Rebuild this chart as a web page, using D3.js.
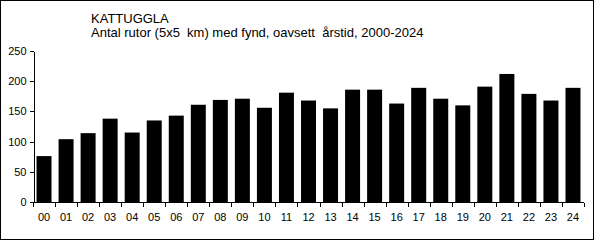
<!DOCTYPE html>
<html>
<head>
<meta charset="utf-8">
<script src="https://cdn.jsdelivr.net/npm/d3@7"></script>
<style>
  body { margin: 0; background: #fff; }
  svg { display: block; font-family: "Liberation Sans", Arial, sans-serif; }
  .axis path, .axis line { stroke: #000; shape-rendering: crispEdges; }
  .axis text { font-size: 11px; fill: #000; }
</style>
</head>
<body>
<script>
// data
var years = ['00','01','02','03','04','05','06','07','08','09','10','11','12',
             '13','14','15','16','17','18','19','20','21','22','23','24'];
var counts = [76, 104, 114, 138, 115, 135, 143, 161, 169, 171, 156, 181, 168,
              155, 186, 186, 163, 189, 171, 160, 191, 212, 179, 168, 189];
var yTicks = [0, 50, 100, 150, 200, 250];

var W = 594, H = 240;
var margin = {top: 51, right: 10, bottom: 38, left: 33};
var w = 584 - margin.left;
var h = 202 - margin.top;

var svg = d3.select('body').append('svg')
            .attr('width', W)
            .attr('height', H);

// outer frame
svg.append('rect')
   .attr('x', 0.5).attr('y', 0.5)
   .attr('width', W - 1).attr('height', H - 1)
   .attr('fill', '#fff')
   .attr('stroke', '#000');

var xScale = d3.scaleBand().domain(years).range([0, w]).paddingInner(0.32).paddingOuter(0.16);
var yScale = d3.scaleLinear().domain([0, 250]).range([h, 0]);

var g = svg.append('g')
           .attr('transform', 'translate(' + margin.left + ',' + margin.top + ')');

g.selectAll('.bar')
 .data(counts)
 .enter()
 .append('rect')
 .attr('class', 'bar')
 .attr('x', function(d, i) { return xScale(years[i]); })
 .attr('y', function(d) { return yScale(d); })
 .attr('width', xScale.bandwidth())
 .attr('height', function(d) { return h - yScale(d); })
 .attr('fill', '#000');

// y axis
var yAxis = d3.axisLeft(yScale).tickValues(yTicks).tickSize(4).tickSizeOuter(0).tickPadding(3);
g.append('g')
 .attr('class', 'axis')
 .attr('transform', 'translate(0.5,0)')
 .call(yAxis);

// x axis: ticks sit between the categories
var xAxisG = g.append('g')
              .attr('class', 'axis')
              .attr('transform', 'translate(0,' + (h + 0.5) + ')');
xAxisG.append('line')
      .attr('x1', 0).attr('x2', w)
      .attr('y1', 0).attr('y2', 0);
var step = w / years.length;
xAxisG.selectAll('.sep')
      .data(d3.range(years.length + 1))
      .enter()
      .append('line')
      .attr('x1', function(d) { return Math.round(d * step) + 0.5; })
      .attr('x2', function(d) { return Math.round(d * step) + 0.5; })
      .attr('y1', 0).attr('y2', 4);
xAxisG.selectAll('text')
      .data(years)
      .enter()
      .append('text')
      .attr('x', function(d) { return xScale(d) + xScale.bandwidth() / 2; })
      .attr('y', 18)
      .attr('text-anchor', 'middle')
      .text(function(d) { return d; });

// titles
svg.append('text')
   .attr('x', 91).attr('y', 23)
   .attr('font-size', '13px')
   .text('KATTUGGLA');
svg.append('text')
   .attr('x', 91).attr('y', 37)
   .attr('font-size', '13px')
   .attr('xml:space', 'preserve')
   .style('white-space', 'pre')
   .text('Antal rutor (5x5  km) med fynd, oavsett  årstid, 2000-2024');
</script>
</body>
</html>
